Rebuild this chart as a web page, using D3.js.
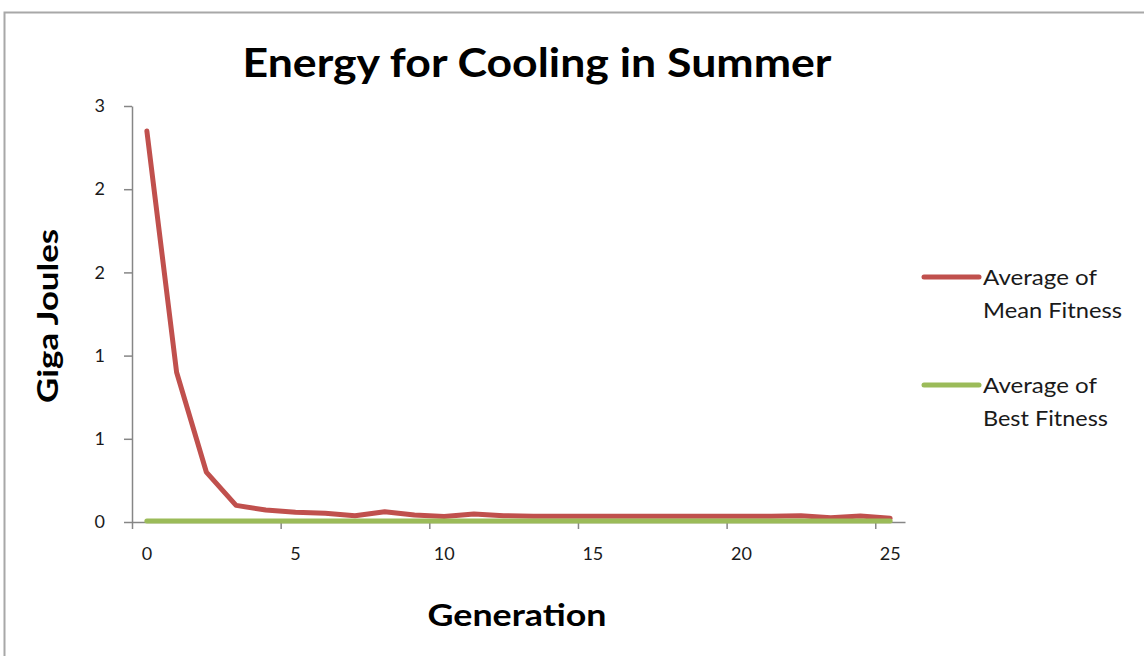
<!DOCTYPE html>
<html>
<head>
<meta charset="utf-8">
<script src="https://cdn.jsdelivr.net/npm/d3@7"></script>
<style>
  html, body { margin: 0; padding: 0; background: #fff; }
  svg { display: block; }
  text { font-family: Lato, "Open Sans", sans-serif; }
</style>
</head>
<body>
<svg id="chart" width="1144" height="656"></svg>
<script>
// Generations on the category axis
const generations = [0, 1, 2, 3, 4, 5, 6, 7, 8, 9, 10, 11, 12, 13, 14, 15, 16, 17, 18, 19, 20, 21, 22, 23, 24, 25];

// Energy per generation (GJ)
const meanFitness = [2.35, 0.90, 0.30, 0.10, 0.072, 0.058, 0.052, 0.038, 0.062, 0.042, 0.033, 0.048, 0.038,
                     0.035, 0.035, 0.035, 0.035, 0.035, 0.035, 0.035, 0.035, 0.035, 0.038, 0.026, 0.036, 0.022];
const bestFitness = [0.006, 0.006, 0.006, 0.006, 0.006, 0.006, 0.006, 0.006, 0.006, 0.006, 0.006, 0.006, 0.006,
                     0.006, 0.006, 0.006, 0.006, 0.006, 0.006, 0.006, 0.006, 0.006, 0.006, 0.006, 0.006, 0.006];

// Axis ticks and their displayed (rounded) labels
const yTicks = [0, 0.5, 1, 1.5, 2, 2.5];
const yTickLabels = ["0", "1", "1", "2", "2", "3"];
const xLabelTicks = [0, 5, 10, 15, 20, 25];
const xMarkTicks = [0, 5, 10, 15, 20, 25];

const seriesNames = [["Average of", "Mean Fitness"], ["Average of", "Best Fitness"]];
const seriesColors = ["#C0504D", "#9BBB59"];

const svg = d3.select("#chart");

// Chart area frame
svg.append("rect")
  .attr("x", 4.5).attr("y", 12.5)
  .attr("width", 1300).attr("height", 800)
  .attr("fill", "#fff")
  .attr("stroke", "#A8A8A8")
  .attr("stroke-width", 2);

const plot = { left: 132, right: 905, top: 106, bottom: 522 };

const x = d3.scaleBand().domain(generations).range([plot.left, plot.right]);
const xEdge = d3.scaleLinear().domain([0, generations.length]).range([plot.left, plot.right]);
const y = d3.scaleLinear().domain([0, 2.5]).range([plot.bottom, plot.top]);

const axisColor = "#868686";

// Y axis
const yAxis = svg.append("g")
  .attr("transform", `translate(${plot.left},0)`)
  .call(d3.axisLeft(y).tickValues(yTicks)
    .tickFormat((d, i) => yTickLabels[i])
    .tickSize(8).tickSizeOuter(0).tickPadding(19));

// X axis: tick marks on category boundaries
const xMarks = svg.append("g")
  .attr("transform", `translate(0,${plot.bottom})`)
  .call(d3.axisBottom(xEdge).tickValues(xMarkTicks)
    .tickFormat("").tickSize(7).tickSizeOuter(0));

// X axis: labels centred on categories
const xLabels = svg.append("g")
  .attr("transform", `translate(0,${plot.bottom})`)
  .call(d3.axisBottom(x).tickValues(xLabelTicks).tickSize(0).tickPadding(25));
xLabels.select(".domain").remove();

[yAxis, xMarks].forEach(g => {
  g.selectAll(".domain, line").attr("stroke", axisColor).attr("stroke-width", 1.5);
});
[yAxis, xLabels].forEach(g => {
  g.selectAll("text")
    .attr("font-family", "Lato, 'Open Sans', sans-serif")
    .attr("font-size", 18)
    .attr("fill", "#1a1a1a");
});

// Series lines
const line = d3.line()
  .x((d, i) => x(generations[i]) + x.bandwidth() / 2)
  .y(d => y(d));

[meanFitness, bestFitness].forEach((vals, k) => {
  svg.append("path")
    .datum(vals)
    .attr("d", line)
    .attr("fill", "none")
    .attr("stroke", seriesColors[k])
    .attr("stroke-width", 5)
    .attr("stroke-linejoin", "round")
    .attr("stroke-linecap", "round");
});

// Title
svg.append("text")
  .attr("x", 537).attr("y", 77)
  .attr("text-anchor", "middle")
  .attr("font-size", 40).attr("font-weight", "bold")
  .attr("textLength", 589).attr("lengthAdjust", "spacingAndGlyphs")
  .attr("fill", "#000")
  .text("Energy for Cooling in Summer");

// Axis titles
svg.append("text")
  .attr("transform", "translate(58,316) rotate(-90)")
  .attr("text-anchor", "middle")
  .attr("font-size", 28).attr("font-weight", "bold")
  .attr("textLength", 174).attr("lengthAdjust", "spacingAndGlyphs")
  .attr("fill", "#000")
  .text("Giga Joules");

svg.append("text")
  .attr("x", 517).attr("y", 626)
  .attr("text-anchor", "middle")
  .attr("font-size", 30).attr("font-weight", "bold")
  .attr("textLength", 179).attr("lengthAdjust", "spacingAndGlyphs")
  .attr("fill", "#000")
  .text("Generation");

// Legend
const legend = svg.append("g");
const legendRows = [277, 385];
const legendWidths = [[114, 139], [114, 125]];
seriesNames.forEach((lines, k) => {
  const ly = legendRows[k];
  legend.append("line")
    .attr("x1", 924).attr("x2", 979)
    .attr("y1", ly).attr("y2", ly)
    .attr("stroke", seriesColors[k])
    .attr("stroke-width", 5)
    .attr("stroke-linecap", "round");
  lines.forEach((t, j) => {
    legend.append("text")
      .attr("x", 983).attr("y", ly + 8 + j * 33)
      .attr("font-size", 22)
      .attr("textLength", legendWidths[k][j]).attr("lengthAdjust", "spacingAndGlyphs")
      .attr("fill", "#1a1a1a")
      .text(t);
  });
});
</script>
</body>
</html>
